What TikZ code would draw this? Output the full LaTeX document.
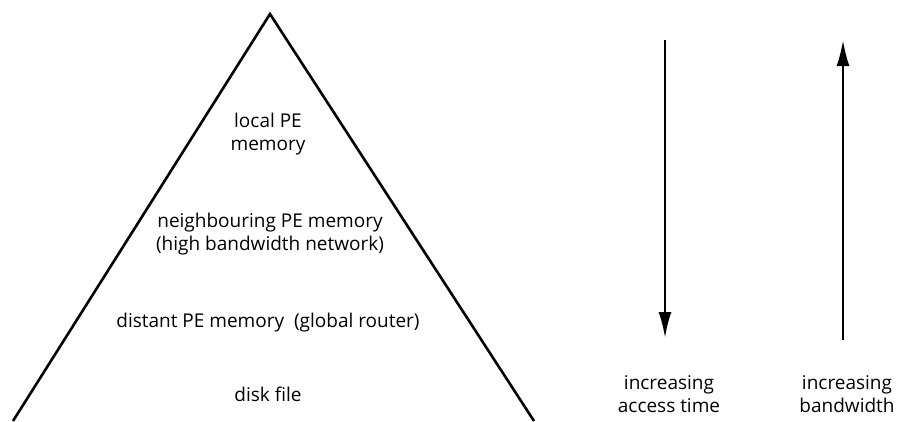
\documentclass[tikz,border=0pt]{standalone}
\usepackage{fontspec}
\setmainfont{Open Sans}
\usetikzlibrary{arrows.meta}

\begin{document}
\begin{tikzpicture}[
    x=1pt, y=-1pt,
    label/.style={align=center, font=\fontsize{19}{23}\selectfont, inner sep=0pt},
    edge/.style={line width=2.6pt, line join=miter},
    trend/.style={-{Latex[length=26pt, width=13pt]}, line width=2.4pt}
]
\useasboundingbox (0,0) rectangle (899,421);

% pyramid
\coordinate (apex) at (270,14);
\coordinate (baseL) at (13,421);
\coordinate (baseR) at (534,421);
\draw[edge] (baseL) -- (apex) -- (baseR);

\node[label] (local) at (268,134) {local PE\\memory};
\node[label] (neigh) at (270,234) {neighbouring PE memory\\(high bandwidth network)};
\node[label] (distant) at (268,323) {distant PE memory\ \ (global router)};
\node[label] (disk) at (268,394) {disk file};

% trends
\coordinate (timeTop) at (665,40);
\coordinate (timeEnd) at (665,338);
\coordinate (bwStart) at (843,340);
\coordinate (bwTop) at (843,40);
\draw[trend] (timeTop) -- (timeEnd);
\draw[trend] (bwStart) -- (bwTop);

\node[label] (access) at (669,394) {increasing\\access time};
\node[label] (bandw) at (847,394) {increasing\\bandwidth};
\end{tikzpicture}
\end{document}
